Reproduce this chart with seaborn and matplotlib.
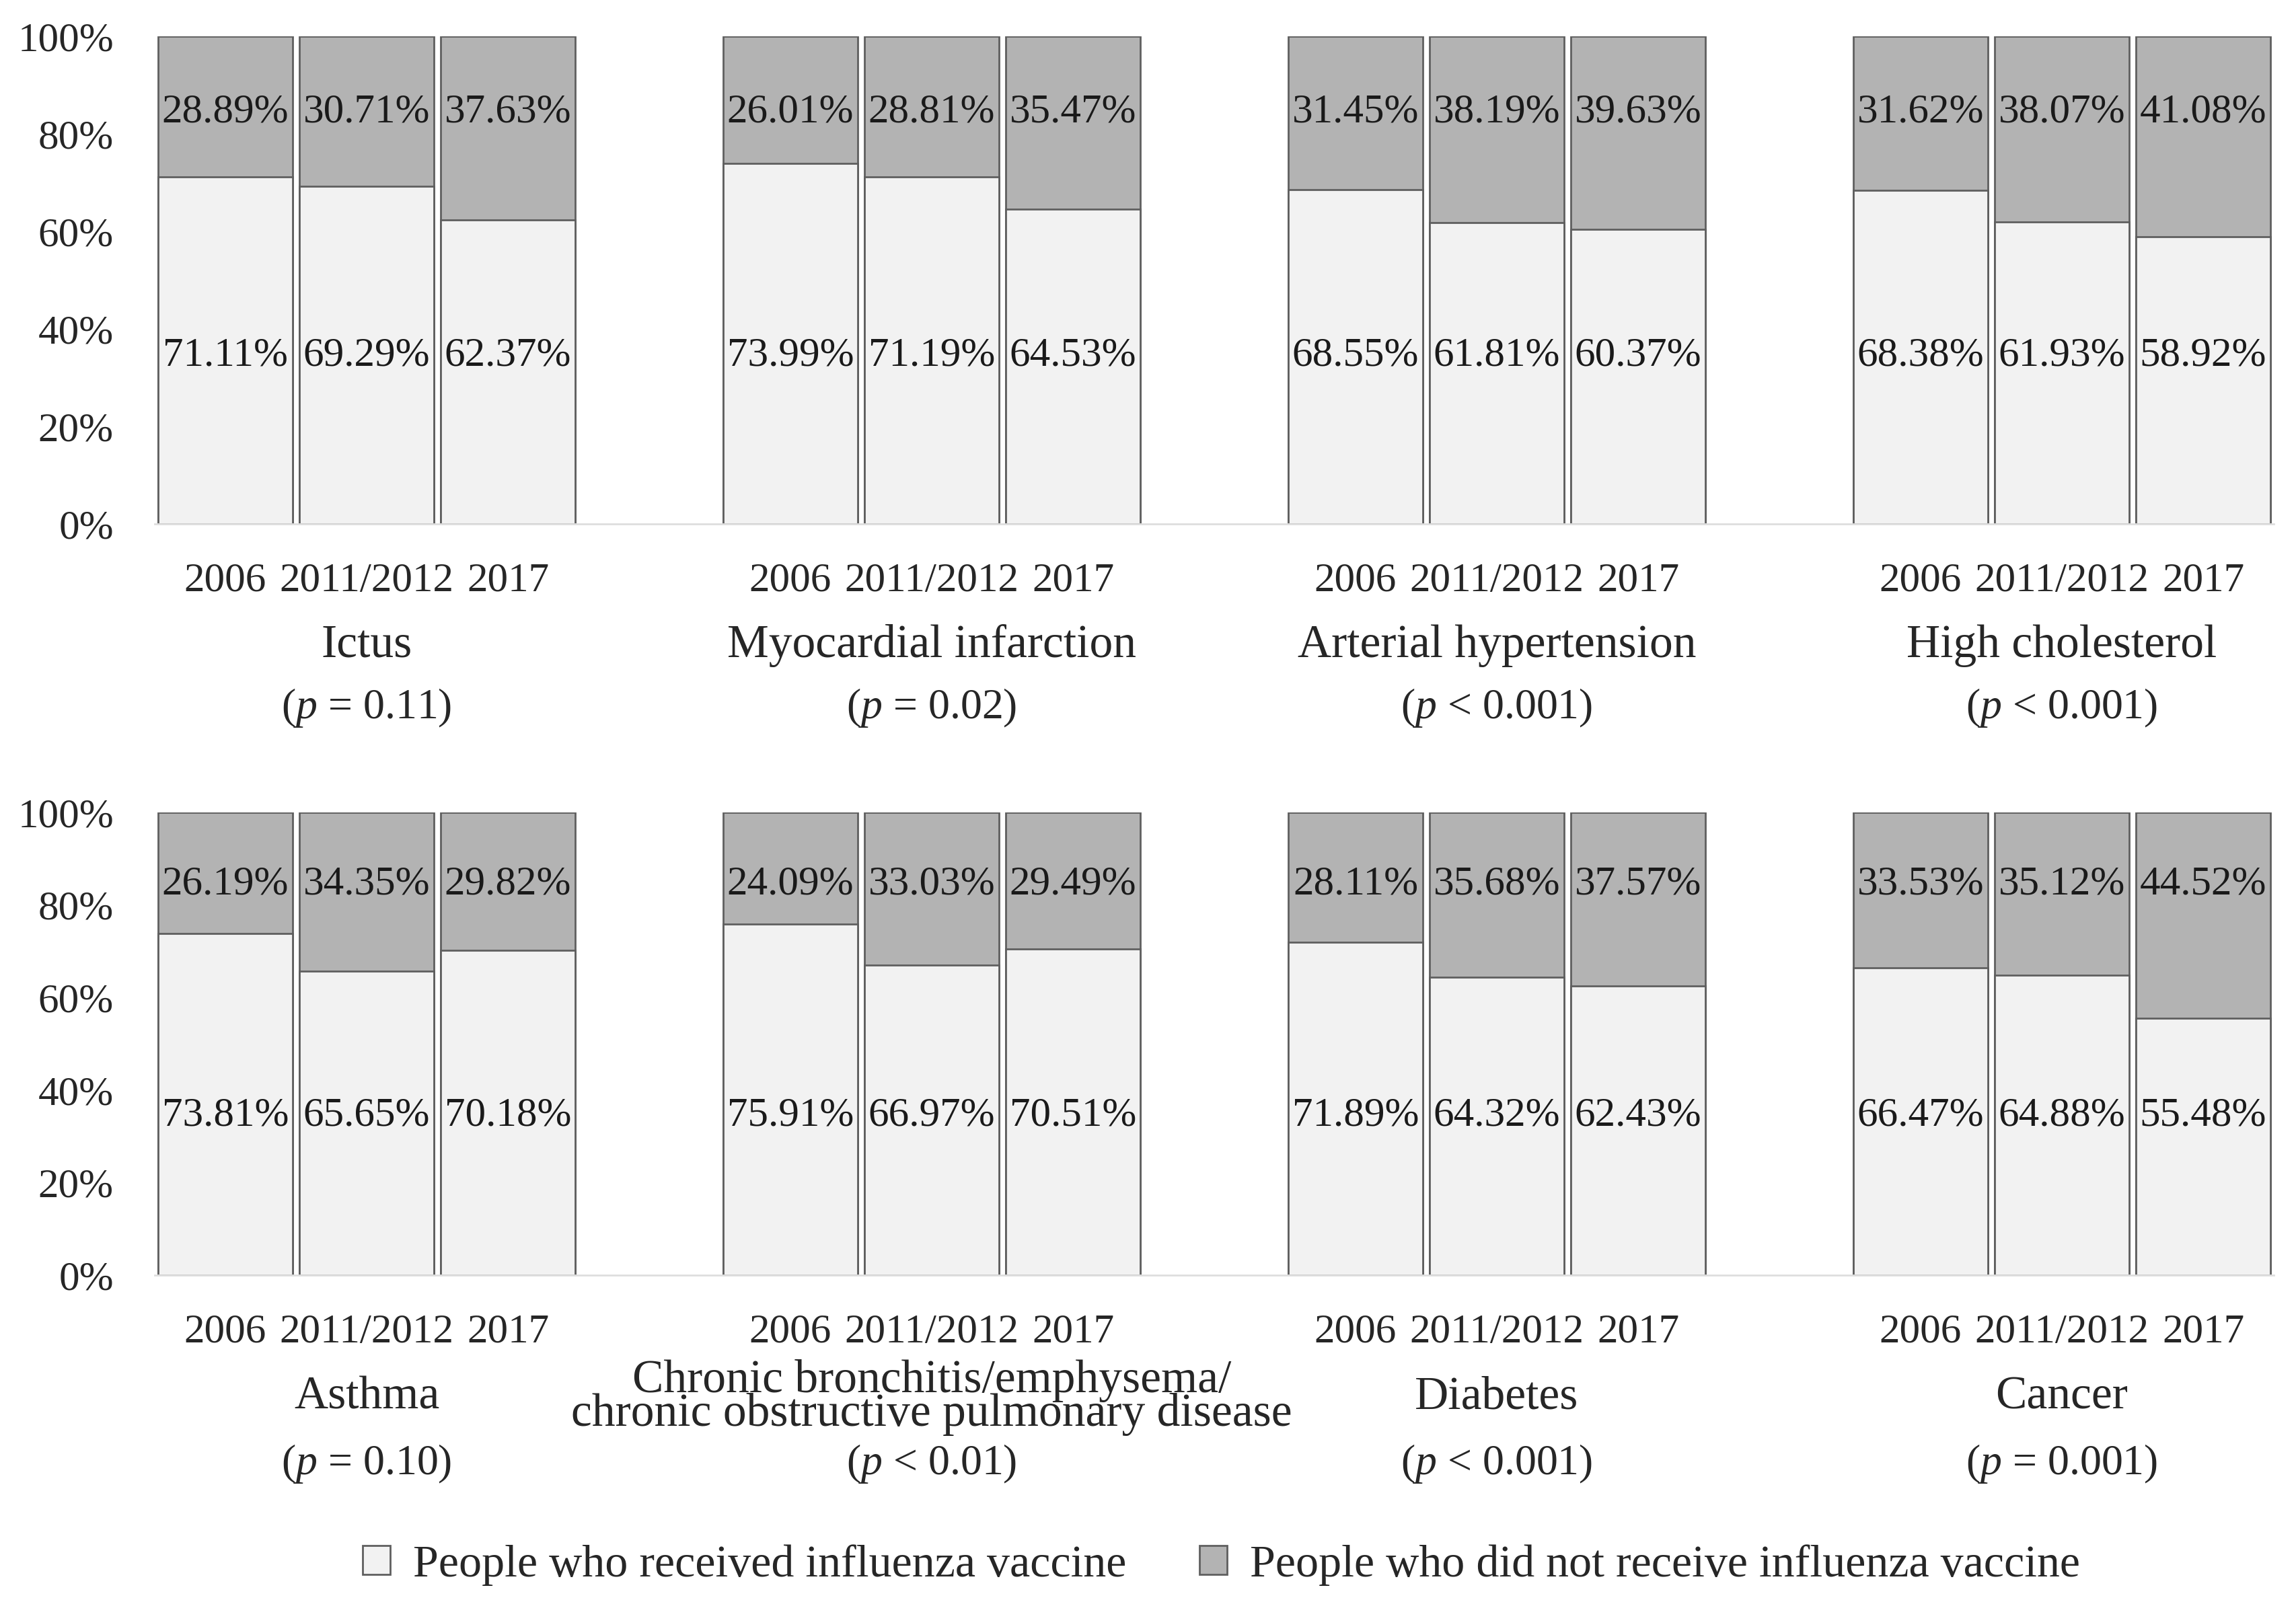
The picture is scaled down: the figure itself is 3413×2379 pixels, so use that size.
import pandas as pd
import matplotlib
matplotlib.use("Agg")
import matplotlib.pyplot as plt
import seaborn as sns
from matplotlib.patches import Patch

# Dados
years = ["2006", "2011/2012", "2017"]

diseases_top = ["Ictus", "Myocardial infarction", "Arterial hypertension", "High cholesterol"]
pvals_top = ["= 0.11", "= 0.02", "< 0.001", "< 0.001"]
received_top = [71.11, 69.29, 62.37, 73.99, 71.19, 64.53, 68.55, 61.81, 60.37, 68.38, 61.93, 58.92]
not_received_top = [28.89, 30.71, 37.63, 26.01, 28.81, 35.47, 31.45, 38.19, 39.63, 31.62, 38.07, 41.08]

diseases_bottom = ["Asthma", "Chronic bronchitis/emphysema/\nchronic obstructive pulmonary disease",
                   "Diabetes", "Cancer"]
pvals_bottom = ["= 0.10", "< 0.01", "< 0.001", "= 0.001"]
received_bottom = [73.81, 65.65, 70.18, 75.91, 66.97, 70.51, 71.89, 64.32, 62.43, 66.47, 64.88, 55.48]
not_received_bottom = [26.19, 34.35, 29.82, 24.09, 33.03, 29.49, 28.11, 35.68, 37.57, 33.53, 35.12, 44.52]

LIGHT = "#f2f2f2"
DARK = "#b3b3b3"
EDGE = "#5f5f5f"
FS = 44

sns.set_style("white")
plt.rcParams["font.family"] = ["Liberation Serif", "DejaVu Serif"]
plt.rcParams["mathtext.fontset"] = "custom"
plt.rcParams["mathtext.rm"] = "Liberation Serif"
plt.rcParams["mathtext.it"] = "Liberation Serif:italic"

fig = plt.figure(figsize=(34.13, 23.79), dpi=100)
W, H = 3413, 2379


def draw_row(ax_rect, diseases, pvals, received, not_received, y_years, y_name, y_p):
    ax = fig.add_axes(ax_rect)
    pos = [4 * g + j for g in range(len(diseases)) for j in range(len(years))]
    df = pd.DataFrame({
        "pos": pos,
        "received": received,
        "total": [r + n for r, n in zip(received, not_received)],
    })
    sns.barplot(data=df, x="pos", y="total", native_scale=True, color=DARK, saturation=1,
                edgecolor=EDGE, linewidth=2, width=0.95, ax=ax)
    sns.barplot(data=df, x="pos", y="received", native_scale=True, color=LIGHT, saturation=1,
                edgecolor=EDGE, linewidth=2, width=0.95, ax=ax)

    # rótulos de valores
    for p, r, n in zip(pos, received, not_received):
        ax.text(p, 34.5, f"{r:.2f}%", ha="center", va="center", fontsize=FS, color="#1a1a1a")
        ax.text(p, 84.5, f"{n:.2f}%", ha="center", va="center", fontsize=FS, color="#1a1a1a")

    ax.set_xlim(-0.5, 14.5)
    ax.set_ylim(0, 100)
    ax.set_yticks(range(0, 101, 20))
    ax.set_yticklabels([f"{v}%" for v in range(0, 101, 20)], fontsize=FS)
    ax.tick_params(axis="y", length=0, pad=44)
    ax.set_xticks([])
    ax.set_xlabel("")
    ax.set_ylabel("")
    for s in ["top", "right", "left"]:
        ax.spines[s].set_visible(False)
    ax.spines["bottom"].set_color("#dedede")
    ax.spines["bottom"].set_linewidth(2)

    # anos, nomes e p-valores
    for g, (name, pv) in enumerate(zip(diseases, pvals)):
        for j, yr in enumerate(years):
            xf = (ax_rect[0] * W + (4 * g + j + 0.5) * ax_rect[2] * W / 15) / W
            fig.text(xf, 1 - y_years / H, yr, ha="center", va="center", fontsize=FS)
        xc = (ax_rect[0] * W + (4 * g + 1.5) * ax_rect[2] * W / 15) / W
        fig.text(xc, 1 - y_name / H, name, ha="center", va="center", fontsize=50,
                 linespacing=0.72)
        fig.text(xc, 1 - y_p / H, f"($\\it{{p}}$ {pv})", ha="center", va="center", fontsize=46)
    return ax


left = 230 / W
width = 3150 / W
draw_row([left, 1 - 779 / H, width, 725 / H], diseases_top, pvals_top,
         received_top, not_received_top, 864, 960, 1052)
draw_row([left, 1 - 1896 / H, width, 688 / H], diseases_bottom, pvals_bottom,
         received_bottom, not_received_bottom, 1981, 2078, 2177)

handles = [Patch(facecolor=LIGHT, edgecolor=EDGE, linewidth=2),
           Patch(facecolor=DARK, edgecolor=EDGE, linewidth=2)]
labels = ["People who received influenza vaccine", "People who did not receive influenza vaccine"]
fig.legend(handles, labels, loc="center", bbox_to_anchor=(0.532, 1 - 2327 / H), ncol=2,
           frameon=False, fontsize=49, handlelength=0.6, handleheight=0.6,
           handletextpad=0.5, columnspacing=1.6)

fig.savefig("out.png", dpi=100)
